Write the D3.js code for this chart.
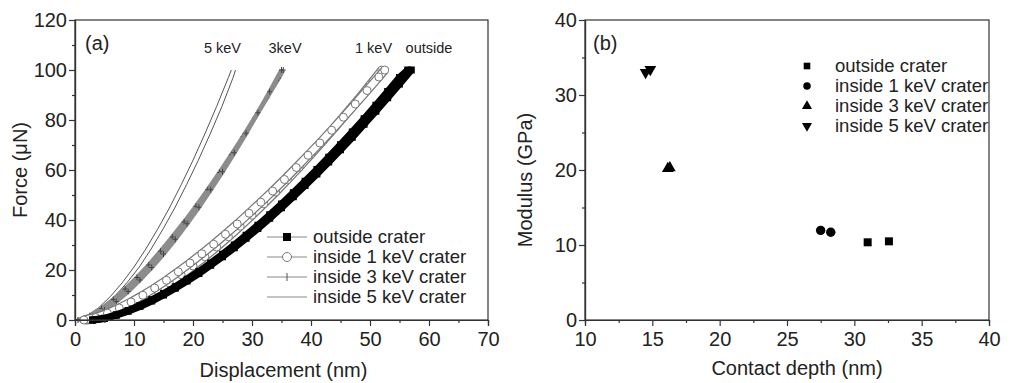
<!DOCTYPE html>
<meta charset="utf-8">
<style>
body { margin: 0; background: #fff; }
svg { font-family: "Liberation Sans", Arial, sans-serif; }
.axis path, .axis line { stroke: #333; stroke-width: 1.2px; }
.axis text { font-size: 20px; fill: #222; }
.title { font-size: 20px; fill: #222; }
.leg { font-size: 18.5px; fill: #222; }
.lab { font-size: 14.5px; fill: #222; }
</style>
<body>
<svg width="1013" height="383"></svg>
<script src="https://cdn.jsdelivr.net/npm/d3@7"></script>
<script>

// (a) loading curves, displacement (nm) vs force (uN), two runs each
var outsideA_h = [3,5,7,9,11,13,15,17,19,21,23,25,27,29,31,33,35,37,39,41,43,45,47,49,51,53,55,57];
var outsideA_F = [0,0.6,1.9,3.5,5.4,7.6,10.0,12.7,15.6,18.6,21.9,25.3,28.9,32.7,36.6,40.7,44.9,49.3,53.8,58.4,63.2,68.1,73.1,78.3,83.5,88.9,94.4,100];
var outsideB_h = [3,5,7,9,11,13,15,17,19,21,23,25,27,29,31,33,35,37,39,41,43,45,47,49,51,53,55,56.4];
var outsideB_F = [0,0.7,2.1,3.8,5.8,8.1,10.6,13.3,16.3,19.4,22.8,26.3,30.0,33.9,37.9,42.1,46.4,50.9,55.5,60.2,65.1,70.1,75.2,80.5,85.9,91.4,97.0,100];

var kev1A_h = [2,4,6,8,10,12,14,16,18,20,22,24,26,28,30,32,34,36,38,40,42,44,46,48,50,52];
var kev1A_F = [0,0.8,2.3,4.2,6.4,8.9,11.8,14.8,18.1,21.6,25.3,29.2,33.3,37.5,41.9,46.5,51.2,56.1,61.1,66.3,71.6,77.0,82.6,88.2,94.1,100];
var kev1B_h = [1.5,3.5,5.5,7.5,9.5,11.5,13.5,15.5,17.5,19.5,21.5,23.5,25.5,27.5,29.5,31.5,33.5,35.5,37.5,39.5,41.5,43.5,45.5,47.5,49.5,51.5,52.5];
var kev1B_F = [0,1.0,2.7,4.8,7.2,9.9,12.8,15.9,19.3,22.8,26.5,30.3,34.3,38.4,42.7,47.1,51.6,56.2,61.0,65.9,70.8,75.9,81.1,86.4,91.8,97.2,100];

var kev3A_h = [0.5,2.5,4.5,6.5,8.5,10.5,12.5,14.5,16.5,18.5,20.5,22.5,24.5,26.5,28.5,30.5,32.5,34.5,35.3];
var kev3A_F = [0,1.7,4.6,8.2,12.4,17.0,22.0,27.5,33.2,39.2,45.5,52.1,59.0,66.1,73.4,81.0,88.8,96.7,100];
var kev3B_h = [1,3,5,7,9,11,13,15,17,19,21,23,25,27,29,31,33,35];
var kev3B_F = [0,1.4,4.0,7.4,11.4,16.0,21.0,26.4,32.3,38.5,45.1,52.1,59.3,66.9,74.7,82.9,91.3,100];

var kev5A_h = [0,2,4,6,8,10,12,14,16,18,20,22,24,26,26.5];
var kev5A_F = [0,1.6,4.9,9.4,14.9,21.2,28.4,36.3,44.8,54.1,63.9,74.4,85.4,97.0,100];
var kev5B_h = [0.4,2.5,4.6,6.7,8.8,10.9,12.9,14.9,16.9,18.9,20.9,22.9,24.9,26.8,27.2];
var kev5B_F = [0,1.6,4.9,9.4,14.9,21.2,28.4,36.3,44.8,54.1,63.9,74.4,85.4,97.0,100];

var curveLabels = ["5 keV", "3keV", "1 keV", "outside"];
var curveLabelX = [25, 35.6, 50.6, 60];
var legendNames = ["outside crater", "inside 1 keV crater", "inside 3 keV crater", "inside 5 keV crater"];

// (b) contact depth (nm) vs modulus (GPa)
var depthOutside = [30.99, 32.57], modOutside = [10.36, 10.49];
var depth1 = [27.5, 28.25], mod1 = [11.95, 11.7];
var depth3 = [16.15, 16.3], mod3 = [20.2, 20.3];
var depth5 = [14.5, 14.85], mod5 = [33.0, 33.4];

var svg = d3.select("svg");

function zip(h, f) { return h.map(function(v, i) { return [v, f[i]]; }); }

function axes(g, x, y, xt, xm, yt, ym, w, h) {
  g.append("g").attr("class", "axis").attr("transform", "translate(0," + h + ")")
    .call(d3.axisBottom(x).tickValues(xt).tickSize(6).tickPadding(6).tickFormat(d3.format("d")));
  g.append("g").attr("class", "axis").attr("transform", "translate(0," + h + ")")
    .call(d3.axisBottom(x).tickValues(xm).tickSize(3).tickFormat(""));
  g.append("g").attr("class", "axis")
    .call(d3.axisLeft(y).tickValues(yt).tickSize(6).tickPadding(2).tickFormat(d3.format("d")));
  g.append("g").attr("class", "axis")
    .call(d3.axisLeft(y).tickValues(ym).tickSize(3).tickFormat(""));
  g.append("rect").attr("width", w).attr("height", h)
    .attr("fill", "none").attr("stroke", "#333").attr("stroke-width", 1.2);
}

// ---------- panel (a)
var aL = 75, aT = 20, aW = 413, aH = 300;
var ga = svg.append("g").attr("transform", "translate(" + aL + "," + aT + ")");
var xa = d3.scaleLinear().domain([0, 70]).range([0, aW]);
var ya = d3.scaleLinear().domain([0, 120]).range([aH, 0]);
var line = d3.line().x(function(d) { return xa(d[0]); }).y(function(d) { return ya(d[1]); });

var plot = ga.append("g");

// 5 keV: thin lines
[zip(kev5A_h, kev5A_F), zip(kev5B_h, kev5B_F)].forEach(function(s) {
  plot.append("path").datum(s).attr("d", line)
    .attr("fill", "none").attr("stroke", "#555").attr("stroke-width", 1);
});

// 3 keV: grey band with + markers
[zip(kev3A_h, kev3A_F), zip(kev3B_h, kev3B_F)].forEach(function(s) {
  plot.append("path").datum(s).attr("d", line)
    .attr("fill", "none").attr("stroke", "#8c8c8c").attr("stroke-width", 4.5);
  plot.append("g").selectAll("path").data(s).enter().append("path")
    .attr("transform", function(d) { return "translate(" + xa(d[0]) + "," + ya(d[1]) + ")"; })
    .attr("d", "M-2.5,0H2.5M0,-3V3").attr("stroke", "#444").attr("stroke-width", 1);
});

// 1 keV: open circles
[zip(kev1A_h, kev1A_F), zip(kev1B_h, kev1B_F)].forEach(function(s) {
  plot.append("path").datum(s).attr("d", line)
    .attr("fill", "none").attr("stroke", "#777").attr("stroke-width", 9);
  plot.append("path").datum(s).attr("d", line)
    .attr("fill", "none").attr("stroke", "#fff").attr("stroke-width", 6.5);
  plot.append("g").selectAll("circle").data(s).enter().append("circle")
    .attr("cx", function(d) { return xa(d[0]); }).attr("cy", function(d) { return ya(d[1]); })
    .attr("r", 4).attr("fill", "#fff").attr("stroke", "#777").attr("stroke-width", 1);
});

// outside: filled squares
[zip(outsideA_h, outsideA_F), zip(outsideB_h, outsideB_F)].forEach(function(s) {
  plot.append("path").datum(s).attr("d", line)
    .attr("fill", "none").attr("stroke", "#000").attr("stroke-width", 7);
  plot.append("g").selectAll("rect").data(s).enter().append("rect")
    .attr("x", function(d) { return xa(d[0]) - 3.5; }).attr("y", function(d) { return ya(d[1]) - 3.5; })
    .attr("width", 7).attr("height", 7).attr("fill", "#000");
});

axes(ga, xa, ya, d3.range(0, 71, 10), d3.range(5, 70, 10), d3.range(0, 121, 20), d3.range(10, 120, 20), aW, aH);

ga.selectAll(".lab").data(curveLabels).enter().append("text").attr("class", "lab")
  .attr("x", function(d, i) { return xa(curveLabelX[i]); }).attr("y", 33)
  .attr("text-anchor", "middle").text(function(d) { return d; });
ga.append("text").attr("class", "title").attr("x", 10).attr("y", 30).text("(a)");

// legend (a)
var lega = ga.append("g").attr("transform", "translate(192,217)");
var rowA = lega.selectAll("g").data(legendNames).enter().append("g")
  .attr("transform", function(d, i) { return "translate(0," + i * 20 + ")"; });
rowA.append("line").attr("x1", 0).attr("x2", 40).attr("stroke", "#888").attr("stroke-width", 1);
rowA.append("text").attr("class", "leg").attr("x", 46).attr("dy", "0.35em").text(function(d) { return d; });
lega.append("rect").attr("x", 16).attr("y", -4).attr("width", 8).attr("height", 8).attr("fill", "#000");
lega.append("circle").attr("cx", 20).attr("cy", 20).attr("r", 4.5).attr("fill", "#fff").attr("stroke", "#777");
lega.append("path").attr("d", "M20,36V44").attr("stroke", "#555");

svg.append("text").attr("class", "title").attr("text-anchor", "middle")
  .attr("transform", "translate(27," + (aT + aH / 2) + ") rotate(-90)").text("Force (\u03bcN)");
svg.append("text").attr("class", "title").attr("text-anchor", "middle")
  .attr("x", aL + aW / 2 + 2).attr("y", 377).text("Displacement (nm)");

// ---------- panel (b)
var bL = 585, bT = 20, bW = 404, bH = 300;
var gb = svg.append("g").attr("transform", "translate(" + bL + "," + bT + ")");
var xb = d3.scaleLinear().domain([10, 40]).range([0, bW]);
var yb = d3.scaleLinear().domain([0, 40]).range([bH, 0]);

axes(gb, xb, yb, d3.range(10, 41, 5), d3.range(12.5, 40, 5), d3.range(0, 41, 10), d3.range(5, 40, 10), bW, bH);

var sets = [
  { x: depthOutside, y: modOutside, sym: d3.symbolSquare, size: 64, rot: 0 },
  { x: depth1, y: mod1, sym: d3.symbolCircle, size: 70, rot: 0 },
  { x: depth3, y: mod3, sym: d3.symbolTriangle, size: 60, rot: 0 },
  { x: depth5, y: mod5, sym: d3.symbolTriangle, size: 60, rot: 180 }
];
sets.forEach(function(s) {
  gb.append("g").selectAll("path").data(s.x).enter().append("path")
    .attr("transform", function(d, i) { return "translate(" + xb(d) + "," + yb(s.y[i]) + ") rotate(" + s.rot + ")"; })
    .attr("d", d3.symbol().type(s.sym).size(s.size)).attr("fill", "#000");
});

gb.append("text").attr("class", "title").attr("x", 8).attr("y", 30).text("(b)");

var legb = gb.append("g").attr("transform", "translate(222,46)");
var rowB = legb.selectAll("g").data(legendNames).enter().append("g")
  .attr("transform", function(d, i) { return "translate(0," + i * 20 + ")"; });
rowB.append("path")
  .attr("d", function(d, i) { return d3.symbol().type(sets[i].sym).size(44)(); })
  .attr("transform", function(d, i) { return "rotate(" + sets[i].rot + ")"; })
  .attr("fill", "#000");
rowB.append("text").attr("class", "leg").attr("x", 28).attr("dy", "0.35em").text(function(d) { return d; });

svg.append("text").attr("class", "title").attr("text-anchor", "middle")
  .attr("transform", "translate(532,180) rotate(-90)").text("Modulus (GPa)");
svg.append("text").attr("class", "title").attr("text-anchor", "middle")
  .attr("x", 797).attr("y", 375).text("Contact depth (nm)");

</script>
</body>
